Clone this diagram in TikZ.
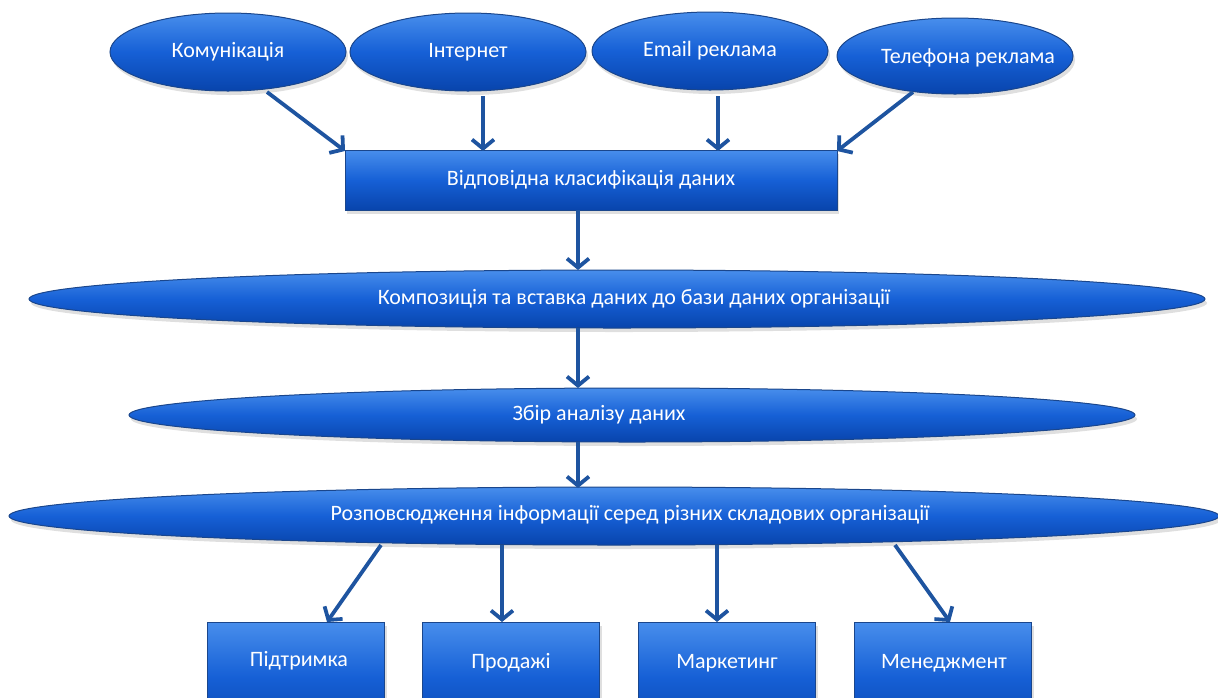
\documentclass[tikz,border=0pt]{standalone}
\usepackage{fontspec}
\setmainfont{Carlito}
\usetikzlibrary{shapes.geometric,arrows.meta,shadows}

\definecolor{boxtop}{RGB}{72,142,236}
\definecolor{boxmid}{RGB}{22,96,214}
\definecolor{boxbot}{RGB}{8,68,172}
\definecolor{boxedge}{RGB}{26,70,140}
\definecolor{linkblue}{RGB}{30,84,160}

\tikzset{
  blueshape/.style={draw=boxedge, line width=1pt, top color=boxtop, bottom color=boxbot,
    middle color=boxmid, text=white, inner sep=0pt,
    drop shadow={opacity=0.25, shadow xshift=2pt, shadow yshift=-4pt}},
  oval/.style={blueshape, ellipse, minimum width=#1},
  oval/.default=236pt,
  blockbox/.style={blueshape, rectangle},
  label text/.style={text=white, inner sep=0pt},
  link/.style={draw=linkblue, line width=3.8pt,
    -{Straight Barb[length=9pt,width=22pt,line width=3.8pt]}}
}

\begin{document}
\begin{tikzpicture}[x=1pt,y=-1pt,font=\fontsize{22}{26}\selectfont]
  \useasboundingbox (0,0) rectangle (1218,697);
  \clip (0,0) rectangle (1218,697);

  % sources
  \node[oval, minimum height=78pt] (kom) at (228,52) {Комунікація};
  \node[oval, minimum height=78pt] (int) at (468,52) {Інтернет};
  \node[oval, minimum height=78pt] (eml) at (710,51) {Email реклама};
  \node[oval, minimum height=76pt] (tel) at (955,56) {};
  \node[label text] (telt) at (968,58) {Телефона реклама};

  % classification block
  \node[blockbox, minimum width=492pt, minimum height=60pt] (cls) at (591,180)
    {Відповідна класифікація даних};

  % long process ellipses
  \node[oval=1176pt, minimum height=58pt] (cmp) at (617,299) {};
  \node[label text] (cmpt) at (634,299) {Композиція та вставка даних до бази даних організації};

  \node[oval=1006pt, minimum height=54pt] (anl) at (632,415) {};
  \node[label text] (anlt) at (599,415) {Збір аналізу даних};

  \node[oval=1210pt, minimum height=58pt] (dst) at (614,516) {};
  \node[label text] (dstt) at (630,515) {Розповсюдження інформації серед різних складових організації};

  % departments
  \node[blockbox, minimum width=177pt, minimum height=110pt] (sup) at (296,677) {};
  \node[label text] (supt) at (299,661) {Підтримка};
  \node[blockbox, minimum width=177pt, minimum height=110pt] (sal) at (511,677) {};
  \node[label text] (salt) at (511,663) {Продажі};
  \node[blockbox, minimum width=177pt, minimum height=110pt] (mkt) at (727,677) {};
  \node[label text] (mktt) at (727,663) {Маркетинг};
  \node[blockbox, minimum width=177pt, minimum height=110pt] (mgm) at (943,677) {};
  \node[label text] (mgmt) at (944,663) {Менеджмент};

  % connector end points
  \coordinate (kA) at (267,92);   \coordinate (kB) at (345,151);
  \coordinate (iA) at (483,96);   \coordinate (iB) at (483,151);
  \coordinate (eA) at (718,96);   \coordinate (eB) at (718,151);
  \coordinate (tA) at (913,92);   \coordinate (tB) at (837,151);
  \coordinate (cA) at (578,210);  \coordinate (cB) at (578,270);
  \coordinate (pA) at (578,328);  \coordinate (pB) at (578,388);
  \coordinate (aA) at (578,442);  \coordinate (aB) at (578,488);
  \coordinate (d1A) at (381,545); \coordinate (d1B) at (327,622);
  \coordinate (d2A) at (502,545); \coordinate (d2B) at (502,622);
  \coordinate (d3A) at (717,545); \coordinate (d3B) at (717,622);
  \coordinate (d4A) at (895,545); \coordinate (d4B) at (950,622);

  \draw[link] (kA) -- (kB);
  \draw[link] (iA) -- (iB);
  \draw[link] (eA) -- (eB);
  \draw[link] (tA) -- (tB);
  \draw[link] (cA) -- (cB);
  \draw[link] (pA) -- (pB);
  \draw[link] (aA) -- (aB);
  \draw[link] (d1A) -- (d1B);
  \draw[link] (d2A) -- (d2B);
  \draw[link] (d3A) -- (d3B);
  \draw[link] (d4A) -- (d4B);
\end{tikzpicture}
\end{document}
